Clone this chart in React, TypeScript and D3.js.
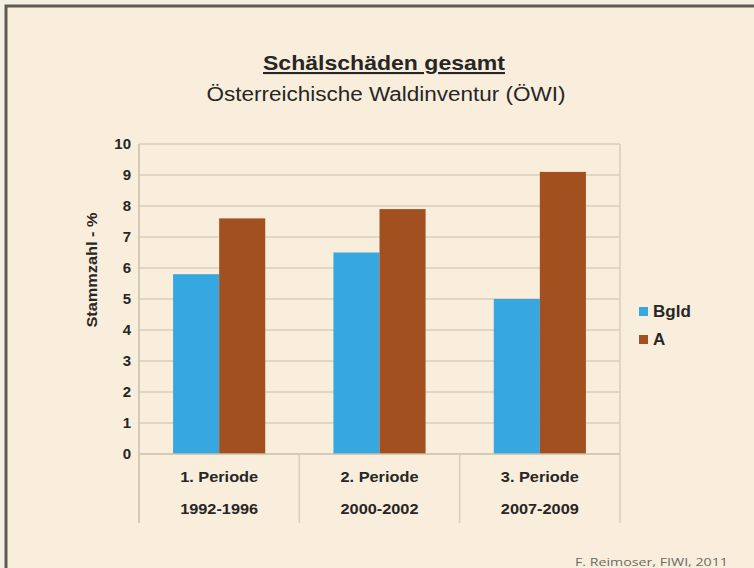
import React from "react";
import * as d3 from "d3";

const categories = ["1. Periode", "2. Periode", "3. Periode"];
const periods = ["1992-1996", "2000-2002", "2007-2009"];
const seriesNames = ["Bgld", "A"];
const bgldValues = [5.8, 6.5, 5.0];
const aValues = [7.6, 7.9, 9.1];
const yTicks = [0, 1, 2, 3, 4, 5, 6, 7, 8, 9, 10];
const colors = ["#36a8df", "#a2501f"];

const W = 754;
const H = 568;
const FONT = "'Liberation Sans', Arial, sans-serif";

export default function App() {
  const x0 = d3.scaleBand<string>().domain(categories).range([139, 620]).paddingInner(0).paddingOuter(0);
  const x1 = d3.scaleBand<string>().domain(seriesNames).range([0, x0.bandwidth()]).paddingInner(0).paddingOuter(0.74);
  const y = d3.scaleLinear().domain([0, 10]).range([454, 144]);
  const values = [bgldValues, aValues];
  const textColor = "#262626";

  return (
    <svg width={W} height={H} style={{ position: "absolute", left: 0, top: 0 }} xmlns="http://www.w3.org/2000/svg">
      <rect x={0} y={0} width={W} height={H} fill="#f4efe3" />
      <rect x={6} y={6} width={W + 20} height={H + 20} fill="#f9eedb" stroke="#5a5c55" strokeWidth={3} />

      {/* Title */}
      <text x={384} y={70} textAnchor="middle" fontFamily={FONT} fontWeight="bold" fontSize={21} fill={textColor} textDecoration="underline" textLength={242} lengthAdjust="spacingAndGlyphs">
        Schälschäden gesamt
      </text>
      <text x={386} y={101} textAnchor="middle" fontFamily={FONT} fontSize={20} fill={textColor} textLength={359} lengthAdjust="spacingAndGlyphs">
        Österreichische Waldinventur (ÖWI)
      </text>

      {/* Gridlines */}
      {yTicks.filter((t) => t > 0).map((t) => (
        <line key={"g" + t} x1={x0.range()[0]} x2={x0.range()[1]} y1={y(t)} y2={y(t)} stroke="#d8cdbb" strokeWidth={1.5} />
      ))}
      {/* right border */}
      <line x1={620} x2={620} y1={y(10)} y2={y(0)} stroke="#d8cdbb" strokeWidth={1.5} />

      {/* Bars */}
      {categories.map((c, i) => (
        <g key={c} transform={`translate(${x0(c)},0)`}>
          {seriesNames.map((s, j) => (
            <rect key={s} x={x1(s)} y={y(values[j][i])} width={x1.bandwidth()} height={y(0) - y(values[j][i])} fill={colors[j]} />
          ))}
        </g>
      ))}

      {/* Axes */}
      <line x1={x0.range()[0]} x2={x0.range()[1]} y1={y(0)} y2={y(0)} stroke="#c9bea9" strokeWidth={1.5} />
      <line x1={139} x2={139} y1={y(10)} y2={523} stroke="#c9bea9" strokeWidth={1.5} />
      {categories.map((c) => (
        <line key={"sep" + c} x1={(x0(c) as number) + x0.bandwidth()} x2={(x0(c) as number) + x0.bandwidth()} y1={y(0)} y2={523} stroke="#d8cdbb" strokeWidth={1.5} />
      ))}

      {/* Y tick labels */}
      {yTicks.map((t) => (
        <text key={"t" + t} x={131} y={y(t) + 5} textAnchor="end" fontFamily={FONT} fontWeight="bold" fontSize={15} fill={textColor}>
          {t}
        </text>
      ))}

      {/* Y title */}
      <text transform="translate(97,270) rotate(-90)" textAnchor="middle" fontFamily={FONT} fontWeight="bold" fontSize={14} fill={textColor} textLength={115} lengthAdjust="spacingAndGlyphs">
        Stammzahl - %
      </text>

      {/* X labels */}
      {categories.map((c, i) => (
        <g key={"xl" + c}>
          <text x={(x0(c) as number) + x0.bandwidth() / 2} y={482} textAnchor="middle" fontFamily={FONT} fontWeight="bold" fontSize={15} fill={textColor} textLength={78} lengthAdjust="spacingAndGlyphs">
            {c}
          </text>
          <text x={(x0(c) as number) + x0.bandwidth() / 2} y={514} textAnchor="middle" fontFamily={FONT} fontWeight="bold" fontSize={15} fill={textColor} textLength={78} lengthAdjust="spacingAndGlyphs">
            {periods[i]}
          </text>
        </g>
      ))}

      {/* Legend */}
      {seriesNames.map((s, j) => (
        <g key={"lg" + s}>
          <rect x={639} y={307 + j * 28} width={9} height={9} fill={colors[j]} />
          <text x={653} y={317 + j * 28} fontFamily={FONT} fontWeight="bold" fontSize={17} fill={textColor}>
            {s}
          </text>
        </g>
      ))}

      {/* Footer */}
      <text x={728} y={566} textAnchor="end" fontFamily="'Open Sans', sans-serif" fontSize={11} fill="#6b6b66" textLength={153} lengthAdjust="spacingAndGlyphs">
        F. Reimoser, FIWI, 2011
      </text>
    </svg>
  );
}
